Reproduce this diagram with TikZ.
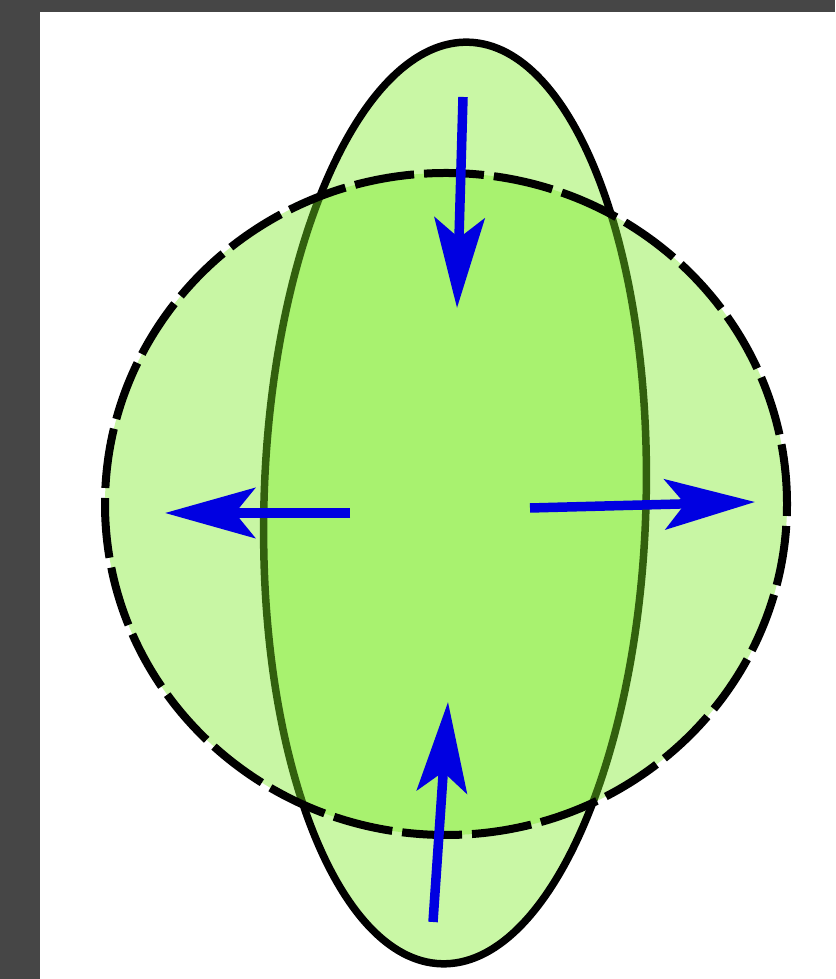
\documentclass[tikz,border=0pt]{standalone}
\usetikzlibrary{arrows.meta}
\definecolor{backgray}{RGB}{70,70,70}
\definecolor{lightleaf}{RGB}{201,247,165}
\definecolor{leafmix}{RGB}{122,235,34}
\definecolor{pushblue}{RGB}{0,0,225}
\begin{document}
\begin{tikzpicture}[x=0.02cm, y=0.02cm,
    push/.style={pushblue, line width=0.19cm, -{Stealth[length=1.8cm, width=1.0cm, inset=0.4cm]}},
    oval/.style={fill=lightleaf, draw=black, line width=0.15cm},
    sphere/.style={fill=leafmix, fill opacity=0.41, draw=black, draw opacity=1,
        line width=0.16cm, dash pattern=on 1.2cm off 0.2cm}]
    \fill[backgray] (0,0) rectangle (835,979);
    \fill[white] (40,0) rectangle (835,967);
    \path[oval, rotate around={-1.7:(455,476)}] (455,476) ellipse [x radius=191, y radius=461];
    \path[sphere] (446,475) ellipse [x radius=341, y radius=331];
    % arrow ends
    \coordinate (topstart) at (463,882);
    \coordinate (toptip) at (457,671);
    \coordinate (leftstart) at (350,466);
    \coordinate (lefttip) at (165,466);
    \coordinate (rightstart) at (530,471);
    \coordinate (righttip) at (755,477);
    \coordinate (botstart) at (433,57);
    \coordinate (bottip) at (448,277);
    \draw[push] (topstart) -- (toptip);
    \draw[push] (leftstart) -- (lefttip);
    \draw[push] (rightstart) -- (righttip);
    \draw[push] (botstart) -- (bottip);
\end{tikzpicture}
\end{document}
